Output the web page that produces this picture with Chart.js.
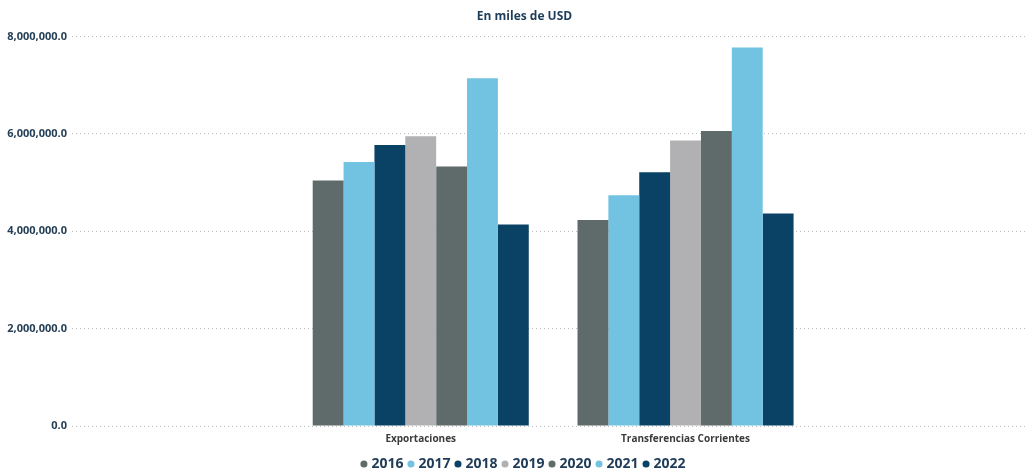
<!DOCTYPE html>
<html>
<head>
<meta charset="utf-8">
<script src="https://cdn.jsdelivr.net/npm/chart.js@4"></script>
<style>
  html, body { margin: 0; padding: 0; background: #fff; overflow: hidden; }
  #wrap { width: 1049px; height: 481px; position: relative; }
</style>
</head>
<body>
<div id="wrap"><canvas id="chart"></canvas></div>
<script>
// Categorías y años
const categorias = ['Exportaciones', 'Transferencias Corrientes'];
const anios = ['2016', '2017', '2018', '2019', '2020', '2021', '2022'];

// Valores en miles de USD, por año (mismo orden que anios)
const exportaciones = [5040000, 5420000, 5770000, 5950000, 5330000, 7140000, 4140000];
const transferencias = [4230000, 4740000, 5210000, 5860000, 6055000, 7770000, 4365000];

const colores = ['#5f6a6b', '#72c3e2', '#0a4265', '#b1b1b4', '#5f6a6b', '#72c3e2', '#0a4265'];
const yTicks = [0, 2000000, 4000000, 6000000, 8000000];

const FONT = '"Open Sans", "Noto Sans", sans-serif';

// cada categoría se ubica en x = 1, 2 sobre un eje lineal
const datasets = anios.map((anio, i) => ({
    label: anio,
    data: [
        { x: 1, y: exportaciones[i] },
        { x: 2, y: transferencias[i] }
    ],
    backgroundColor: colores[i],
    borderWidth: 0,
    categoryPercentage: 0.816,
    barPercentage: 1.0
}));

const ctx = document.getElementById('chart').getContext('2d');
new Chart(ctx, {
    type: 'bar',
    data: { datasets: datasets },
    options: {
        responsive: true,
        maintainAspectRatio: false,
        animation: false,
        layout: { padding: 0 },
        plugins: {
            title: {
                display: true,
                text: 'En miles de USD',
                color: '#1c3d5a',
                font: { family: FONT, size: 12, weight: 'bold' },
                padding: { top: 9, bottom: 13 }
            },
            legend: {
                position: 'bottom',
                labels: {
                    usePointStyle: true,
                    pointStyle: 'circle',
                    boxWidth: 1,
                    boxHeight: 5,
                    padding: 7,
                    color: '#1f3b57',
                    font: { family: FONT, size: 14, weight: 'bold' }
                }
            }
        },
        scales: {
            x: {
                type: 'linear',
                offset: false,
                min: -0.317,
                max: 3.282,
                grid: { display: false, drawTicks: false, offset: false },
                border: { display: false },
                afterBuildTicks: (axis) => {
                    axis.ticks = categorias.map((c, i) => ({ value: i + 1 }));
                },
                afterFit: (axis) => { axis.height = 24; },
                ticks: {
                    padding: 0,
                    color: '#3a3a3a',
                    font: { family: FONT, size: 10, weight: 'bold', lineHeight: '26px' },
                    callback: (value) => categorias[value - 1] || ''
                }
            },
            y: {
                min: 0,
                max: 8000000,
                afterBuildTicks: (axis) => {
                    axis.ticks = yTicks.map(v => ({ value: v }));
                },
                afterFit: (axis) => { axis.width = 72; },
                grid: {
                    color: '#bdbdbd',
                    lineWidth: 1,
                    drawTicks: false
                },
                border: { display: false, dash: [1, 3] },
                ticks: {
                    padding: 5,
                    color: '#253f56',
                    font: { family: FONT, size: 11, weight: 'bold' },
                    callback: (value) => value.toLocaleString('en-US', { minimumFractionDigits: 1, maximumFractionDigits: 1 })
                }
            },
            // margen derecho vacío
            margen: {
                type: 'linear',
                position: 'right',
                display: true,
                grid: { display: false, drawTicks: false },
                border: { display: false },
                ticks: { display: false },
                afterFit: (axis) => { axis.width = 24; }
            }
        }
    }
});
</script>
</body>
</html>
